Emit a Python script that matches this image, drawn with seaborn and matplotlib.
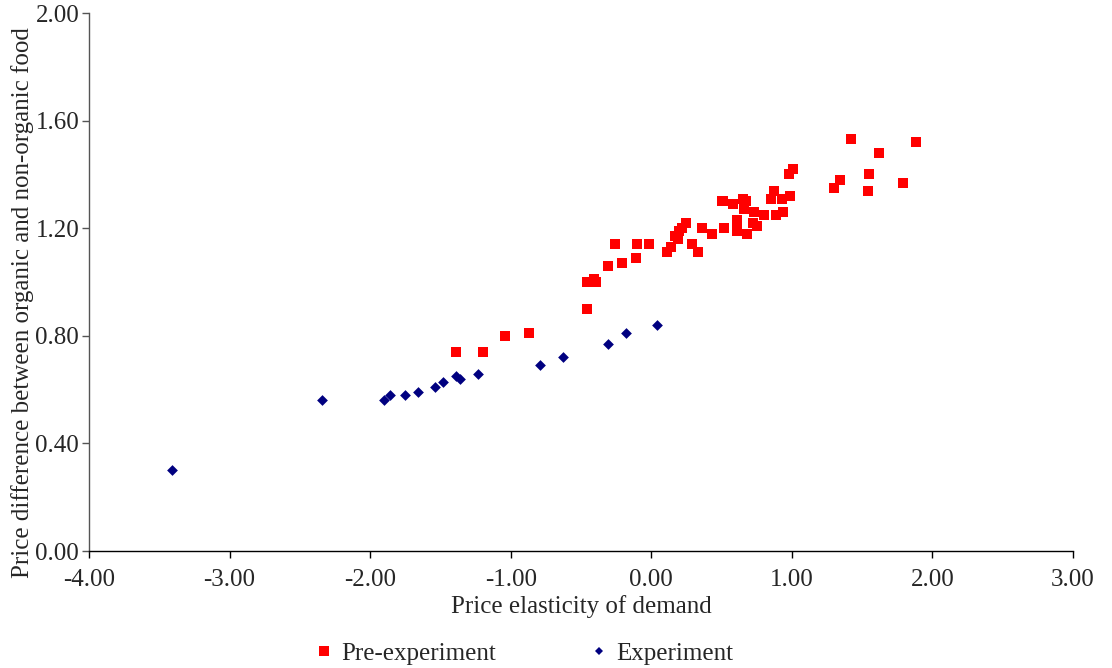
import matplotlib
matplotlib.use("Agg")
import matplotlib.pyplot as plt
import seaborn as sns
import pandas as pd
from matplotlib.lines import Line2D

# Data
pre_x = [-1.39, -1.20, -1.04, -0.87, -0.46, -0.46, -0.41, -0.39, -0.31, -0.21,
         -0.26, -0.11, -0.10, -0.02, 0.11, 0.14, 0.17, 0.19, 0.20, 0.22,
         0.25, 0.29, 0.33, 0.36, 0.43, 0.50, 0.51, 0.58, 0.52, 0.61,
         0.61, 0.61, 0.65, 0.67, 0.66, 0.73, 0.68, 0.72, 0.75, 0.80,
         0.85, 0.87, 0.89, 0.94, 0.93, 0.99, 0.98, 1.01, 1.30, 1.34,
         1.42, 1.54, 1.55, 1.62, 1.79, 1.88]
pre_y = [0.74, 0.74, 0.80, 0.81, 0.90, 1.00, 1.01, 1.00, 1.06, 1.07,
         1.14, 1.09, 1.14, 1.14, 1.11, 1.13, 1.17, 1.16, 1.19, 1.20,
         1.22, 1.14, 1.11, 1.20, 1.18, 1.30, 1.30, 1.29, 1.20, 1.23,
         1.22, 1.19, 1.31, 1.30, 1.27, 1.26, 1.18, 1.22, 1.21, 1.25,
         1.31, 1.34, 1.25, 1.26, 1.31, 1.32, 1.40, 1.42, 1.35, 1.38,
         1.53, 1.34, 1.40, 1.48, 1.37, 1.52]
exp_x = [-3.41, -2.34, -1.90, -1.86, -1.75, -1.66, -1.54, -1.48, -1.39, -1.36,
         -1.23, -0.79, -0.63, -0.31, -0.18, 0.04]
exp_y = [0.30, 0.56, 0.56, 0.58, 0.58, 0.59, 0.61, 0.63, 0.65, 0.64,
         0.66, 0.69, 0.72, 0.77, 0.81, 0.84]
x_ticks = [-4.0, -3.0, -2.0, -1.0, 0.0, 1.0, 2.0, 3.0]
y_ticks = [0.0, 0.4, 0.8, 1.2, 1.6, 2.0]
x_tick_labels = ["-4.00", "-3.00", "-2.00", "-1.00", "0.00", "1.00", "2.00", "3.00"]
y_tick_labels = ["0.00", "0.40", "0.80", "1.20", "1.60", "2.00"]
series_names = ["Pre-experiment", "Experiment"]

sns.set_style("white")
plt.rcParams["font.family"] = ["Liberation Serif", "DejaVu Serif"]
plt.rcParams["axes.unicode_minus"] = False

fig = plt.figure(figsize=(11.12, 6.68), dpi=100)
ax = fig.add_axes([0.080, 0.175, 0.885, 0.8055])

pre = pd.DataFrame({"x": pre_x, "y": pre_y})
exp = pd.DataFrame({"x": exp_x, "y": exp_y})

sns.scatterplot(data=pre, x="x", y="y", ax=ax, marker="s", color="#FF0000",
                s=58, linewidth=0, zorder=3)
sns.scatterplot(data=exp, x="x", y="y", ax=ax, marker="D", color="#000080",
                s=30, linewidth=0, zorder=3)

ax.set_xlim(-4.0, 3.0)
ax.set_ylim(0.0, 2.0)
ax.set_xticks(x_ticks)
ax.set_xticklabels(x_tick_labels)
ax.set_yticks(y_ticks)
ax.set_yticklabels(y_tick_labels)

fs = 18
ax.tick_params(axis="x", direction="out", length=5, width=1, pad=8,
               labelsize=fs, bottom=True, color="black")
ax.tick_params(axis="y", direction="out", length=5, width=1, pad=2,
               labelsize=fs, left=True, color="#555555")
for side in ["top", "right"]:
    ax.spines[side].set_visible(False)
ax.spines["bottom"].set_color("black")
ax.spines["left"].set_color("#555555")
ax.spines["bottom"].set_linewidth(1.0)
ax.spines["left"].set_linewidth(1.0)

ax.set_xlabel("Price elasticity of demand", fontsize=fs, labelpad=3)
ax.set_ylabel("Price difference between organic and non-organic food",
              fontsize=fs)
ax.yaxis.set_label_coords(-0.0555, 0.461)

handles = [
    Line2D([], [], linestyle="none", marker="s", color="#FF0000",
           markersize=6.5, markeredgewidth=0),
    Line2D([], [], linestyle="none", marker="D", color="#000080",
           markersize=4.2, markeredgewidth=0),
]
fig.legend(handles, series_names, loc="center", bbox_to_anchor=(0.471, 0.021),
           ncol=2, frameon=False, fontsize=fs, handlelength=0.8,
           handletextpad=0.3, columnspacing=3.7, borderpad=0.2)

fig.savefig("out.png", dpi=100)
